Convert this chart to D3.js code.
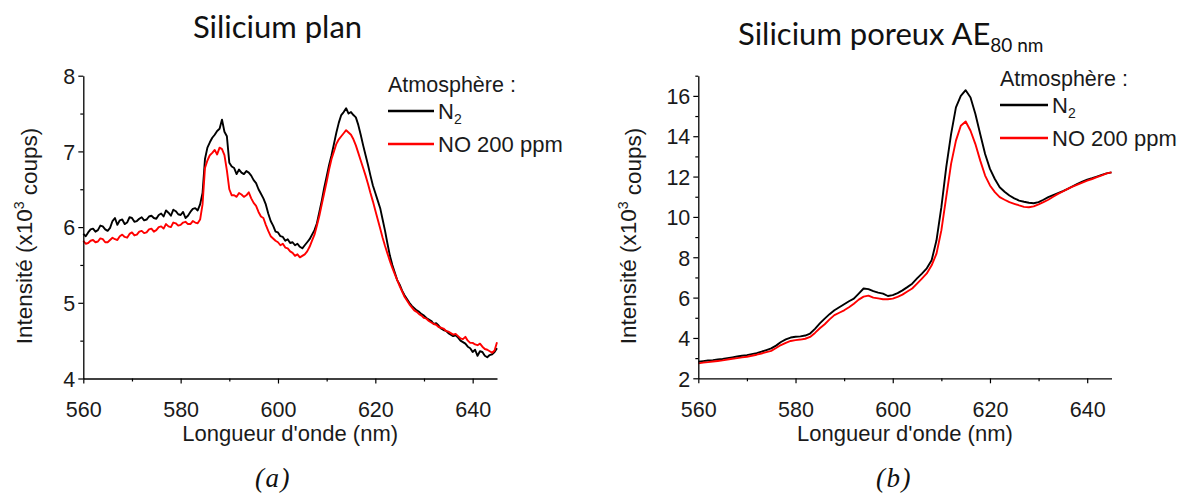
<!DOCTYPE html>
<html><head><meta charset="utf-8">
<script src="https://cdn.jsdelivr.net/npm/d3@7"></script>
<style>
html,body{margin:0;padding:0;background:#fff;}
svg{display:block;}
</style></head>
<body>
<svg id="chart" width="1184" height="495"></svg>
<script>
// ---------- DATA ----------
const wavelengthA = d3.range(0, 171).map(i => 560 + i * 0.5); // 560..645 nm, 0.5 nm step
const wavelengthB = d3.range(560, 646, 1);                     // 560..645 nm, 1 nm step

// (a) Silicium plan, x10^3 counts (pairs: n, n+0.5)
const planN2 = [
 5.91,5.88, 5.93,5.97, 5.98,5.94, 5.96,6.02, 6.01,5.97, 5.95,5.99, 6.08,6.12, 6.03,6.09, 6.10,6.04, 6.06,6.13,
 6.12,6.07, 6.08,6.11, 6.13,6.09, 6.10,6.14, 6.15,6.12, 6.11,6.16, 6.18,6.14, 6.22,6.19, 6.15,6.23, 6.21,6.17,
 6.16,6.20, 6.12,6.15, 6.20,6.24, 6.25,6.22, 6.30,6.45, 6.90,7.05, 7.12,7.18, 7.22,7.27, 7.30,7.42, 7.26,7.20,
 6.85,6.80, 6.78,6.70, 6.76,6.72, 6.70,6.74, 6.72,6.68, 6.62,6.58, 6.50,6.44, 6.38,6.30, 6.18,6.08, 6.02,5.94,
 5.93,5.88, 5.87,5.82, 5.84,5.79, 5.80,5.76, 5.78,5.74, 5.72,5.76, 5.80,5.84, 5.90,5.96, 6.05,6.20, 6.35,6.52,
 6.67,6.82, 6.95,7.10, 7.25,7.38, 7.48,7.52, 7.57,7.50, 7.52,7.48, 7.45,7.35, 7.22,7.08, 6.95,6.82, 6.68,6.55,
 6.45,6.35, 6.25,6.10, 5.95,5.78, 5.62,5.50, 5.40,5.30, 5.24,5.16, 5.10,5.05, 5.00,4.96, 4.93,4.90, 4.88,4.85,
 4.83,4.80, 4.78,4.76, 4.72,4.73, 4.70,4.66, 4.64,4.63, 4.60,4.58, 4.56,4.57, 4.54,4.50, 4.48,4.46, 4.42,4.40,
 4.35,4.38, 4.30,4.36, 4.35,4.30, 4.28,4.31, 4.32,4.35, 4.40];
const planNO = [
 5.82,5.78, 5.79,5.82, 5.83,5.80, 5.81,5.85, 5.84,5.80, 5.80,5.83, 5.86,5.84, 5.83,5.88, 5.90,5.87, 5.86,5.91,
 5.93,5.89, 5.90,5.94, 5.95,5.92, 5.93,5.97, 5.98,5.94, 5.96,6.00, 6.01,5.98, 6.04,6.01, 6.00,6.06, 6.05,6.02,
 6.03,6.06, 6.07,6.04, 6.04,6.08, 6.06,6.05, 6.10,6.30, 6.78,6.88, 6.95,6.98, 7.02,6.96, 7.05,7.03, 6.95,6.75,
 6.50,6.42, 6.42,6.40, 6.45,6.43, 6.40,6.42, 6.46,6.38, 6.32,6.28, 6.20,6.14, 6.12,6.03, 5.95,5.88, 5.85,5.82,
 5.80,5.76, 5.78,5.73, 5.72,5.68, 5.66,5.62, 5.64,5.60, 5.62,5.64, 5.68,5.74, 5.82,5.90, 6.02,6.15, 6.30,6.45,
 6.60,6.76, 6.90,7.00, 7.10,7.16, 7.20,7.24, 7.28,7.25, 7.22,7.16, 7.08,6.98, 6.88,6.78, 6.68,6.57, 6.45,6.34,
 6.22,6.10, 5.98,5.86, 5.75,5.65, 5.55,5.46, 5.38,5.30, 5.22,5.15, 5.08,5.03, 4.98,4.94, 4.90,4.88, 4.85,4.83,
 4.80,4.79, 4.76,4.74, 4.72,4.71, 4.68,4.67, 4.66,4.63, 4.62,4.60, 4.58,4.59, 4.56,4.53, 4.52,4.55, 4.50,4.47,
 4.47,4.45, 4.44,4.46, 4.42,4.39, 4.38,4.36, 4.34,4.37, 4.48];

// (b) Silicium poreux AE80nm, x10^3 counts
const poreuxN2 = [2.82,2.85,2.88,2.90,2.93,2.96,3.00,3.04,3.08,3.12,
 3.15,3.20,3.25,3.32,3.40,3.48,3.62,3.80,3.93,4.02,
 4.06,4.08,4.12,4.22,4.45,4.72,4.96,5.18,5.37,5.52,
 5.67,5.82,5.95,6.20,6.45,6.42,6.32,6.25,6.20,6.08,
 6.12,6.22,6.36,6.52,6.69,6.95,7.19,7.45,7.85,8.84,
 10.48,12.46,14.10,15.43,16.00,16.28,15.92,15.10,14.10,13.12,
 12.38,11.88,11.47,11.25,11.06,10.92,10.81,10.75,10.70,10.68,
 10.73,10.85,10.98,11.08,11.18,11.28,11.39,11.52,11.64,11.75,
 11.85,11.92,12.00,12.08,12.16,12.21];
const poreuxNO = [2.74,2.78,2.80,2.83,2.86,2.89,2.93,2.97,3.00,3.04,
 3.07,3.12,3.17,3.23,3.30,3.36,3.50,3.65,3.76,3.85,
 3.89,3.92,3.96,4.05,4.25,4.48,4.68,4.92,5.13,5.25,
 5.37,5.52,5.70,5.90,6.05,6.10,6.00,5.96,5.92,5.92,
 5.95,6.04,6.15,6.30,6.45,6.69,6.94,7.20,7.60,8.18,
 9.33,10.98,12.63,13.78,14.52,14.73,14.27,13.61,12.79,12.05,
 11.56,11.23,10.98,10.85,10.73,10.65,10.57,10.50,10.48,10.52,
 10.62,10.73,10.85,11.00,11.14,11.26,11.39,11.50,11.60,11.70,
 11.80,11.88,11.97,12.06,12.16,12.21];

const xMajor = [560, 580, 600, 620, 640];
const xMinor = [570, 590, 610, 630];
const yMajorA = [4, 5, 6, 7, 8];
const yMinorA = [4.5, 5.5, 6.5, 7.5];
const yMajorB = [2, 4, 6, 8, 10, 12, 14, 16];
const yMinorB = [3, 5, 7, 9, 11, 13, 15, 17];

const seriesNames = ["N2", "NO 200 ppm"];
const seriesColors = ["#000000", "#ff0000"];
const legendTitle = "Atmosphère :";
const xLabel = "Longueur d'onde (nm)";

// ---------- DRAW ----------
const svg = d3.select("#chart");
const TICKFONT = "'Liberation Sans', Arial, sans-serif";

function panel(cfg) {
  const g = svg.append("g");
  const x = d3.scaleLinear().domain([560, 645]).range(cfg.xr);
  const y = d3.scaleLinear().domain(cfg.yd).range(cfg.yr);
  const x0 = cfg.xr[0], yb = cfg.yr[0];

  const line = d3.line().x((d, i) => x(cfg.wl[i])).y(d => y(d));
  [cfg.n2, cfg.no].forEach((s, k) => {
    g.append("path").datum(s).attr("d", line)
      .attr("fill", "none").attr("stroke", seriesColors[k])
      .attr("stroke-width", 1.9).attr("stroke-linejoin", "round");
  });

  // x axis
  const gx = g.append("g").attr("transform", `translate(0,${yb})`)
    .call(d3.axisBottom(x).tickValues(xMajor).tickSize(5).tickSizeOuter(0).tickFormat(d3.format("d")));
  gx.append("g").call(d3.axisBottom(x).tickValues(xMinor).tickSize(3).tickSizeOuter(0).tickFormat(""))
    .select(".domain").remove();
  gx.selectAll("text").attr("y", 38.5).attr("dy", 0)
    .style("font-family", TICKFONT).style("font-size", "21.5px").attr("fill", "#1a1a1a");

  // y axis
  const gy = g.append("g").attr("transform", `translate(${x0},0)`)
    .call(d3.axisLeft(y).tickValues(cfg.yMajor).tickSize(5).tickSizeOuter(0).tickPadding(3).tickFormat(d3.format("d")));
  gy.append("g").call(d3.axisLeft(y).tickValues(cfg.yMinor).tickSize(3).tickSizeOuter(0).tickFormat(""))
    .select(".domain").remove();
  gy.selectAll("text").attr("dy", "0.36em")
    .style("font-family", TICKFONT).style("font-size", "21.5px").attr("fill", "#1a1a1a");

  g.selectAll(".domain").attr("stroke", "#000").attr("stroke-width", 1.3);
  g.selectAll(".tick line").attr("stroke", "#000").attr("stroke-width", 1.2);

  // x label
  g.append("text").attr("x", (cfg.xr[0] + cfg.xr[1]) / 2).attr("y", 441)
    .attr("text-anchor", "middle").style("font-family", TICKFONT).style("font-size", "22px")
    .attr("fill", "#1a1a1a").text(xLabel);

  // y label
  const yl = g.append("text").attr("transform", `translate(${cfg.ylx},${cfg.yly}) rotate(-90)`)
    .attr("text-anchor", "middle").style("font-family", TICKFONT).style("font-size", "22.5px")
    .attr("fill", "#1a1a1a");
  yl.append("tspan").text("Intensité (x10");
  yl.append("tspan").attr("dy", "-0.55em").style("font-size", "14px").text("3");
  yl.append("tspan").attr("dy", "0.55em").text(" coups)");

  // legend
  const lg = g.append("g").attr("transform", `translate(${cfg.lx},${cfg.ly})`);
  lg.append("text").attr("x", 0).attr("y", 0).style("font-family", TICKFONT).style("font-size", "21.5px")
    .attr("fill", "#1a1a1a").text(legendTitle);
  seriesNames.forEach((name, k) => {
    const yy = 19.5 + k * 33;
    lg.append("line").attr("x1", 0).attr("x2", cfg.lw).attr("y1", yy).attr("y2", yy)
      .attr("stroke", seriesColors[k]).attr("stroke-width", 2.6);
    const t = lg.append("text").attr("x", cfg.lw + 4).attr("y", yy + 8)
      .style("font-family", TICKFONT).style("font-size", "22px").attr("fill", "#1a1a1a");
    if (k === 0) {
      t.append("tspan").text("N");
      t.append("tspan").attr("dy", "0.35em").style("font-size", "14px").text("2");
    } else {
      t.text(name);
    }
  });

  // title
  const tt = svg.append("text").attr("x", cfg.tx).attr("y", cfg.ty)
    .attr("text-anchor", cfg.tanchor)
    .style("font-family", "Lato, 'Open Sans', sans-serif").style("font-size", "31px").attr("fill", "#111");
  tt.append("tspan").text(cfg.title);
  if (cfg.sub) tt.append("tspan").attr("dy", "7").style("font-size", "19px").text(cfg.sub);

  // caption
  svg.append("text").attr("x", cfg.cx).attr("y", 487).attr("text-anchor", "middle")
    .style("font-family", "'Liberation Serif', 'DejaVu Serif', serif").style("font-style", "italic")
    .style("font-size", "27px").style("letter-spacing", "1.5px").attr("fill", "#111").text(cfg.caption);
}

panel({
  wl: wavelengthA,
  xr: [83.3, 497], yd: [4, 8], yr: [378.5, 75.7],
  yMajor: yMajorA, yMinor: yMinorA, n2: planN2, no: planNO,
  ylx: 32, yly: 236, lx: 388, ly: 91.5, lw: 46,
  title: "Silicium plan", sub: null, tx: 277.5, ty: 38, tanchor: "middle",
  cx: 273, caption: "(a)"
});
panel({
  wl: wavelengthB,
  xr: [698.3, 1111.5], yd: [2, 17], yr: [378.3, 75.7],
  yMajor: yMajorB, yMinor: yMinorB, n2: poreuxN2, no: poreuxNO,
  ylx: 636, yly: 236, lx: 1000, ly: 85.5, lw: 48,
  title: "Silicium poreux AE", sub: "80 nm", tx: 738, ty: 45, tanchor: "start",
  cx: 894, caption: "(b)"
});
</script>
</body></html>
